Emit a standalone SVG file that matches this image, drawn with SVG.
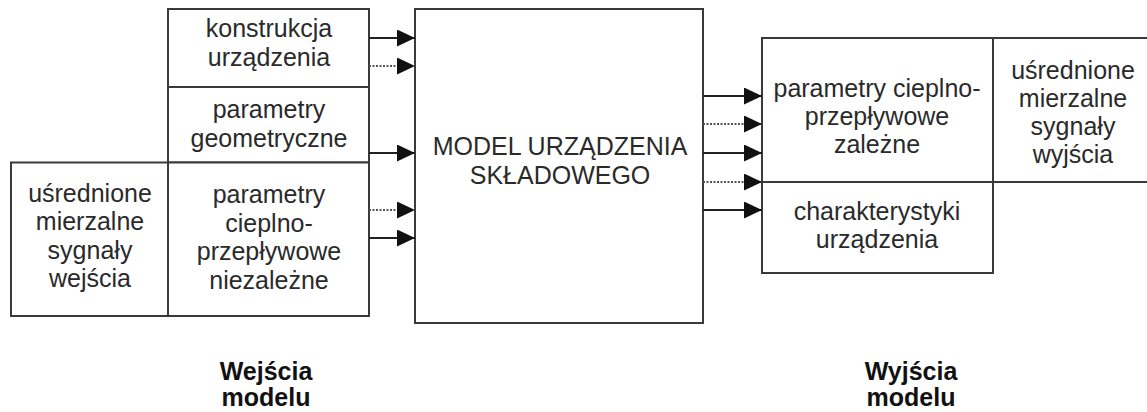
<svg xmlns="http://www.w3.org/2000/svg" width="1147" height="412" viewBox="0 0 1147 412">
  <style>
    .box { fill: #ffffff; stroke: #3a3a3a; stroke-width: 2; }
    .t { font-family: "Liberation Sans", Arial, sans-serif; font-size: 25px; fill: #2a2a2a; text-anchor: middle; }
    .b { font-family: "Liberation Sans", Arial, sans-serif; font-size: 25px; font-weight: bold; fill: #111111; text-anchor: middle; }
    .solid { stroke: #222222; stroke-width: 2.2; fill: none; }
    .dot { stroke: #555555; stroke-width: 2; stroke-dasharray: 2 1.5; fill: none; }
  </style>
  <defs>
    <marker id="ah" markerUnits="userSpaceOnUse" markerWidth="19" markerHeight="18" refX="18" refY="8.5" orient="auto">
      <path d="M0,0 L18,8.5 L0,17 Z" fill="#111111"/>
    </marker>
  </defs>
  <rect width="1147" height="412" fill="#ffffff"/>

  <g id="sygnaly-wejscia">
    <rect class="box" x="11" y="162.5" width="157" height="153.5"/>
    <text class="t" x="90" y="202">uśrednione</text>
    <text class="t" x="90" y="230">mierzalne</text>
    <text class="t" x="90" y="259">sygnały</text>
    <text class="t" x="90" y="287">wejścia</text>
  </g>

  <g id="konstrukcja">
    <rect class="box" x="168" y="9" width="201" height="78"/>
    <text class="t" x="269" y="37">konstrukcja</text>
    <text class="t" x="269" y="66">urządzenia</text>
  </g>

  <g id="parametry-geometryczne">
    <rect class="box" x="168" y="87" width="201" height="75.5"/>
    <text class="t" x="269" y="118">parametry</text>
    <text class="t" x="269" y="147">geometryczne</text>
  </g>

  <g id="parametry-niezalezne">
    <rect class="box" x="168" y="162.5" width="201" height="153.5"/>
    <text class="t" x="269" y="203">parametry</text>
    <text class="t" x="269" y="232">cieplno-</text>
    <text class="t" x="269" y="260">przepływowe</text>
    <text class="t" x="269" y="289">niezależne</text>
  </g>

  <g id="model">
    <rect class="box" x="415" y="9" width="288" height="314"/>
    <text class="t" x="560" y="155">MODEL URZĄDZENIA</text>
    <text class="t" x="560" y="184">SKŁADOWEGO</text>
  </g>

  <g id="parametry-zalezne">
    <rect class="box" x="762" y="38" width="231" height="144"/>
    <text class="t" x="877" y="97">parametry cieplno-</text>
    <text class="t" x="877" y="125">przepływowe</text>
    <text class="t" x="877" y="153">zależne</text>
  </g>

  <g id="charakterystyki">
    <rect class="box" x="762" y="182" width="231" height="91"/>
    <text class="t" x="877" y="220">charakterystyki</text>
    <text class="t" x="877" y="248">urządzenia</text>
  </g>

  <g id="sygnaly-wyjscia">
    <rect class="box" x="993" y="38" width="162" height="144"/>
    <text class="t" x="1073" y="79">uśrednione</text>
    <text class="t" x="1073" y="107">mierzalne</text>
    <text class="t" x="1073" y="135">sygnały</text>
    <text class="t" x="1073" y="163">wyjścia</text>
  </g>

  <g id="connectors">
    <line class="solid" x1="369" y1="38" x2="415" y2="38" marker-end="url(#ah)"/>
    <line class="dot" x1="369" y1="66" x2="415" y2="66" marker-end="url(#ah)"/>
    <line class="solid" x1="369" y1="153" x2="415" y2="153" marker-end="url(#ah)"/>
    <line class="dot" x1="369" y1="210" x2="415" y2="210" marker-end="url(#ah)"/>
    <line class="solid" x1="369" y1="238" x2="415" y2="238" marker-end="url(#ah)"/>

    <line class="solid" x1="703" y1="96" x2="762" y2="96" marker-end="url(#ah)"/>
    <line class="dot" x1="703" y1="124" x2="762" y2="124" marker-end="url(#ah)"/>
    <line class="solid" x1="703" y1="153" x2="762" y2="153" marker-end="url(#ah)"/>
    <line class="dot" x1="703" y1="182" x2="762" y2="182" marker-end="url(#ah)"/>
    <line class="solid" x1="703" y1="210" x2="762" y2="210" marker-end="url(#ah)"/>
  </g>

  <g id="labels">
    <text class="b" x="266" y="380">Wejścia</text>
    <text class="b" x="266" y="406">modelu</text>
    <text class="b" x="911" y="380">Wyjścia</text>
    <text class="b" x="911" y="406">modelu</text>
  </g>
</svg>
